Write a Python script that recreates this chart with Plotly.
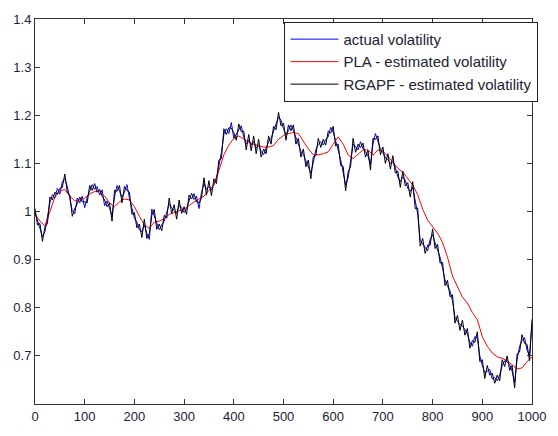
import plotly.graph_objects as go

step_fast = 5
step_pla = 10

actual = [
0.998,0.982,0.965,0.948,0.958,0.985,1.018,1.035,1.028,1.048,
1.036,1.062,1.068,1.052,1.024,1.002,0.995,1.028,1.018,1.032,
1.008,1.03,1.042,1.056,1.046,1.052,1.034,1.045,1.012,1.022,
1.006,0.992,1.03,1.054,1.042,1.03,1.04,1.056,1.028,1.005,
0.986,0.978,0.962,0.958,0.972,0.955,0.942,1.005,0.992,0.975,
0.962,0.972,0.98,0.998,1.016,1.008,1.002,0.996,1.012,1.008,
0.998,1.006,1.022,1.038,1.025,1.032,1.006,1.04,1.058,1.046,
1.052,1.045,1.056,1.07,1.095,1.122,1.16,1.172,1.162,1.185,
1.152,1.16,1.17,1.178,1.155,1.14,1.148,1.138,1.145,1.132,
1.138,1.125,1.118,1.132,1.145,1.152,1.165,1.182,1.196,1.19,
1.172,1.16,1.168,1.18,1.168,1.152,1.14,1.125,1.118,1.105,
1.095,1.08,1.102,1.128,1.14,1.145,1.138,1.15,1.155,1.175,
1.165,1.148,1.128,1.108,1.082,1.055,1.07,1.105,1.14,1.135,
1.128,1.145,1.13,1.125,1.115,1.098,1.14,1.162,1.145,1.13,
1.122,1.112,1.108,1.1,1.104,1.092,1.072,1.062,1.072,1.065,
1.048,1.042,1.05,1.018,0.995,0.94,0.932,0.925,0.918,0.942,
0.952,0.935,0.92,0.905,0.882,0.858,0.845,0.835,0.815,0.78,
0.772,0.765,0.762,0.755,0.745,0.728,0.72,0.74,0.738,0.7,
0.68,0.665,0.668,0.672,0.652,0.655,0.648,0.66,0.68,0.69,
0.688,0.682,0.668,0.645,0.692,0.72,0.732,0.738,0.712,0.702,
0.768]

rgapf = [
1.006,0.972,0.975,0.938,0.968,0.975,1.03,1.024,1.04,1.036,
1.048,1.05,1.078,1.04,1.034,0.99,1.006,1.016,1.03,1.02,
1.02,1.018,1.054,1.044,1.058,1.04,1.046,1.032,1.024,1.01,
1.018,0.98,1.044,1.042,1.054,1.018,1.052,1.044,1.04,0.994,
0.998,0.966,0.974,0.946,0.984,0.944,0.954,0.992,1.004,0.963,
0.974,0.96,0.992,0.986,1.028,0.996,1.014,0.984,1.024,0.996,
1.01,0.994,1.034,1.026,1.037,1.02,1.018,1.028,1.07,1.034,
1.064,1.033,1.068,1.058,1.107,1.11,1.172,1.16,1.174,1.173,
1.164,1.148,1.182,1.166,1.167,1.128,1.16,1.126,1.157,1.12,
1.15,1.113,1.13,1.12,1.157,1.14,1.177,1.17,1.206,1.178,
1.184,1.148,1.18,1.168,1.18,1.14,1.152,1.113,1.13,1.093,
1.107,1.068,1.114,1.116,1.152,1.133,1.15,1.138,1.167,1.163,
1.177,1.136,1.14,1.096,1.094,1.043,1.082,1.093,1.152,1.123,
1.14,1.133,1.142,1.113,1.127,1.086,1.152,1.15,1.157,1.118,
1.134,1.1,1.12,1.088,1.116,1.08,1.084,1.05,1.084,1.053,
1.06,1.03,1.062,1.006,1.007,0.928,0.944,0.913,0.93,0.93,
0.964,0.923,0.932,0.893,0.894,0.846,0.857,0.823,0.827,0.768,
0.784,0.753,0.774,0.743,0.757,0.716,0.732,0.728,0.75,0.688,
0.692,0.653,0.68,0.66,0.664,0.643,0.66,0.648,0.692,0.678,
0.7,0.67,0.68,0.633,0.704,0.708,0.744,0.726,0.724,0.69,
0.776]

pla = [
0.995,0.98,0.97,1.0,1.03,1.042,1.046,1.032,1.022,1.024,
1.028,1.036,1.042,1.042,1.032,1.018,1.01,1.02,1.026,1.024,
1.01,0.99,0.972,0.965,0.978,0.98,0.985,0.994,0.998,1.002,
1.005,1.012,1.02,1.026,1.032,1.044,1.055,1.085,1.118,1.138,
1.152,1.157,1.15,1.144,1.14,1.137,1.134,1.134,1.137,1.15,
1.158,1.162,1.164,1.162,1.147,1.13,1.118,1.118,1.12,1.124,
1.14,1.155,1.14,1.118,1.11,1.12,1.128,1.128,1.117,1.128,
1.125,1.115,1.103,1.09,1.082,1.068,1.055,1.035,1.005,0.982,
0.968,0.955,0.936,0.905,0.866,0.845,0.822,0.81,0.79,0.775,
0.74,0.72,0.706,0.698,0.695,0.69,0.682,0.673,0.675,0.688,
0.698]

t_fast = [i * step_fast for i in range(len(actual))]
t_rg = [i * step_fast for i in range(len(rgapf))]
t_pla = [i * step_pla for i in range(len(pla))]

y_ticks = [0.7, 0.8, 0.9, 1.0, 1.1, 1.2, 1.3, 1.4]
y_labels = ["0.7", "0.8", "0.9", "1", "1.1", "1.2", "1.3", "1.4"]
x_ticks = list(range(0, 1001, 100))

fig = go.Figure()
fig.add_trace(go.Scatter(x=t_fast, y=actual, mode="lines", name="actual volatility",
                         line=dict(color="#0000FF", width=1), legendgroup="a"))
fig.add_trace(go.Scatter(x=t_pla, y=pla, mode="lines", name="PLA - estimated volatility",
                         line=dict(color="#FF0000", width=1), legendgroup="b"))
fig.add_trace(go.Scatter(x=t_rg, y=rgapf, mode="lines", name="RGAPF - estimated volatility",
                         line=dict(color="#000000", width=1), legendgroup="c"))

axis_common = dict(showline=True, mirror="allticks", linecolor="#333333", linewidth=1,
                   ticks="inside", ticklen=5, tickcolor="#333333", showgrid=False,
                   zeroline=False, tickfont=dict(family="Liberation Sans, Arial", size=13, color="#222233"))

fig.update_xaxes(range=[0, 1000], tickvals=x_ticks, **axis_common)
fig.update_yaxes(range=[0.6, 1.4], tickvals=y_ticks, ticktext=y_labels, **axis_common)

fig.update_layout(
    width=558, height=436,
    margin=dict(l=35, r=15, t=16, b=21),
    paper_bgcolor="white", plot_bgcolor="white",
    showlegend=True,
    legend=dict(x=1.013, y=0.9925, xanchor="right", yanchor="top",
                bordercolor="#222222", borderwidth=1, bgcolor="white",
                font=dict(family="Liberation Sans, Arial", size=15, color="#222233"),
                tracegroupgap=2, traceorder="normal", itemwidth=48),
)

fig.write_html("out.html")
